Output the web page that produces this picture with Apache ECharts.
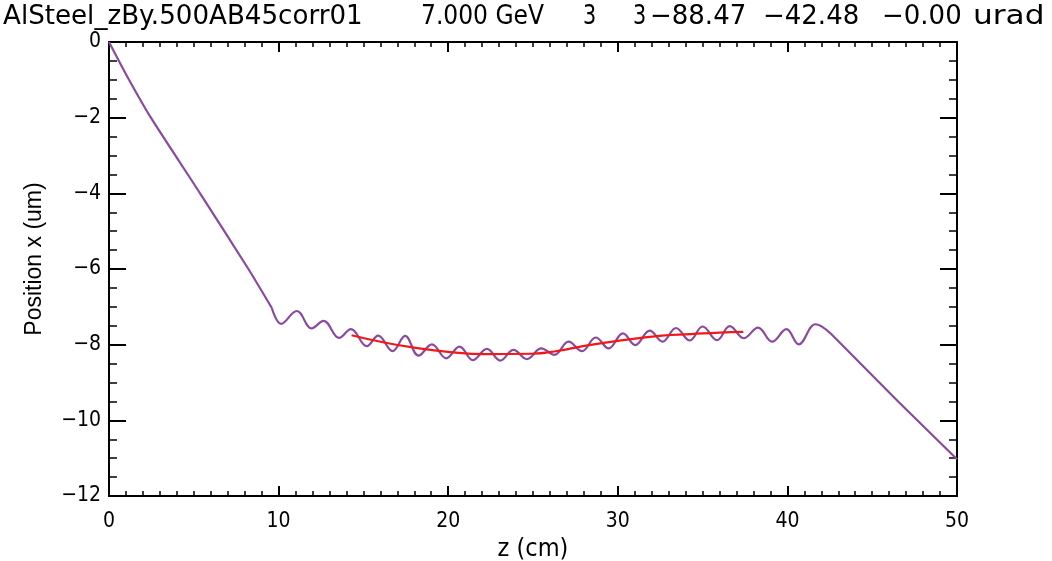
<!DOCTYPE html>
<html>
<head>
<meta charset="utf-8">
<script src="https://cdn.jsdelivr.net/npm/echarts@6/dist/echarts.min.js"></script>
<style>
html,body{margin:0;padding:0;background:#fff;}
#chart{width:1052px;height:561px;}
</style>
</head>
<body>
<div id="chart"></div>
<script>
// ---- data ----
var titleParts = ["AlSteel_zBy.500AB45corr01", "7.000 GeV", "3", "3", "\u221288.47", "\u221242.48", "\u22120.00", "urad"];
var xTicks = [0, 10, 20, 30, 40, 50];
var yTicks = [0, -2, -4, -6, -8, -10, -12];

// trajectory (purple), straight entry: z (cm), x (um)
var entryZ = [0, 1.0, 2.47, 5.37, 8.22, 9.6];
var entryX = [0, -0.85, -2.0, -4.0, -6.0, -7.03];

// trajectory (purple), oscillating part through the undulator
var wigZ = [9.6, 10.15,
  11.07, 11.95, 12.65, 13.57, 14.26, 15.2, 15.87, 16.72, 17.46, 18.25,
  19.04, 19.88, 20.67, 21.45, 22.28, 23.07, 23.85, 24.64, 25.49, 26.26,
  27.1, 27.89, 28.7, 29.46, 30.3, 31.03, 31.88, 32.64, 33.43, 34.24,
  35.0, 35.85, 36.6, 37.42, 38.27, 39.1, 39.94, 40.67, 41.65, 42.54];
var wigX = [-7.03, -7.45,
  -7.11, -7.57, -7.37, -7.82, -7.59, -8.04, -7.76, -8.17, -7.77, -8.29,
  -7.99, -8.36, -8.05, -8.41, -8.11, -8.42, -8.14, -8.38, -8.10, -8.27,
  -7.92, -8.17, -7.81, -8.10, -7.70, -8.01, -7.63, -7.92, -7.56, -7.89,
  -7.52, -7.88, -7.51, -7.83, -7.55, -7.92, -7.59, -7.99, -7.46, -7.70];

// trajectory (purple), straight exit
var exitZ = [42.54, 46.5, 50.0];
var exitX = [-7.70, -9.49, -11.03];

// fit (red): z (cm), x (um)
var fitZ = [14.3, 16.3, 18.0, 20.0, 22.2, 24.9, 26.5, 27.8, 30.0, 32.6, 34.3, 36.0, 37.4];
var fitX = [-7.75, -7.95, -8.08, -8.19, -8.25, -8.24, -8.16, -8.05, -7.90, -7.76, -7.72, -7.68, -7.66];

function pairs(a, b) { return a.map(function (v, i) { return [v, b[i]]; }); }

var chart = echarts.init(document.getElementById('chart'), null, {renderer: 'canvas'});
var FONT = "'Liberation Sans Narrow','DejaVu Sans Condensed','Liberation Sans',sans-serif";
var minus = function (v) { return String(v).replace('-', '\u2212'); };

// title pieces: left edge and horizontal stretch
var titleX = [3, 421, 583, 633, 650, 763, 882, 973];
var titleS = [1.005, 0.9, 0.8, 0.8, 1, 1, 1, 1.2];
var graphics = titleParts.map(function (t, i) {
  return {type: 'text', x: titleX[i], y: 17, scaleX: titleS[i],
    style: {text: t, fontFamily: 'DejaVu Sans', fontSize: 26, fill: '#000',
      verticalAlign: 'middle', textVerticalAlign: 'middle'}};
});
graphics.push({type: 'text', x: 35, y: 259, rotation: Math.PI / 2,
  style: {text: 'Position x (um)', fontFamily: 'Liberation Sans', fontSize: 23, fill: '#000',
    align: 'center', verticalAlign: 'middle', textAlign: 'center', textVerticalAlign: 'middle'}});

var axisLine = {show: true, onZero: false, lineStyle: {color: '#000', width: 2}};
var xTick = {show: true, inside: true, length: 10, lineStyle: {color: '#000', width: 2}};
var xMinor = {show: true, splitNumber: 10, length: 5, lineStyle: {color: '#000', width: 1.5}};
var yTick = {show: true, inside: true, length: 17, lineStyle: {color: '#000', width: 2}};
var yMinor = {show: true, splitNumber: 4, length: 8, lineStyle: {color: '#000', width: 1.5}};
var purple = {color: '#8a4a9e', width: 2.2};

chart.setOption({
  animation: false,
  backgroundColor: '#fff',
  graphic: graphics,
  grid: {left: 109, right: 95, top: 42, bottom: 65, show: false, containLabel: false, outerBoundsMode: 'none'},
  xAxis: [{
    type: 'value', min: 0, max: 50, interval: 10, position: 'bottom',
    name: 'z (cm)', nameLocation: 'middle', nameGap: 39,
    nameTextStyle: {fontFamily: FONT, fontSize: 25, color: '#000'},
    axisLine: axisLine, axisTick: xTick, minorTick: xMinor,
    axisLabel: {fontFamily: FONT, fontSize: 21, color: '#000', margin: 15, formatter: minus},
    splitLine: {show: false}
  }, {
    type: 'value', min: 0, max: 50, interval: 10, position: 'top',
    axisLine: axisLine, axisTick: xTick, minorTick: xMinor,
    axisLabel: {show: false}, splitLine: {show: false}
  }],
  yAxis: [{
    type: 'value', min: -12, max: 0, interval: 2, position: 'left',
    axisLine: axisLine, axisTick: yTick, minorTick: yMinor,
    axisLabel: {fontFamily: FONT, fontSize: 21, color: '#000', margin: 8, formatter: minus},
    splitLine: {show: false}
  }, {
    type: 'value', min: -12, max: 0, interval: 2, position: 'right',
    axisLine: axisLine, axisTick: yTick, minorTick: yMinor,
    axisLabel: {show: false}, splitLine: {show: false}
  }],
  series: [{
    type: 'line', data: pairs(entryZ, entryX), smooth: 0.2, showSymbol: false,
    lineStyle: purple, z: 2
  }, {
    type: 'line', data: pairs(wigZ, wigX), smooth: 0.4, showSymbol: false,
    lineStyle: purple, z: 2
  }, {
    type: 'line', data: pairs(exitZ, exitX), smooth: false, showSymbol: false,
    lineStyle: purple, z: 2
  }, {
    type: 'line', data: pairs(fitZ, fitX), smooth: true, showSymbol: false,
    lineStyle: {color: '#f01818', width: 2.2}, z: 3
  }]
});
</script>
</body>
</html>
